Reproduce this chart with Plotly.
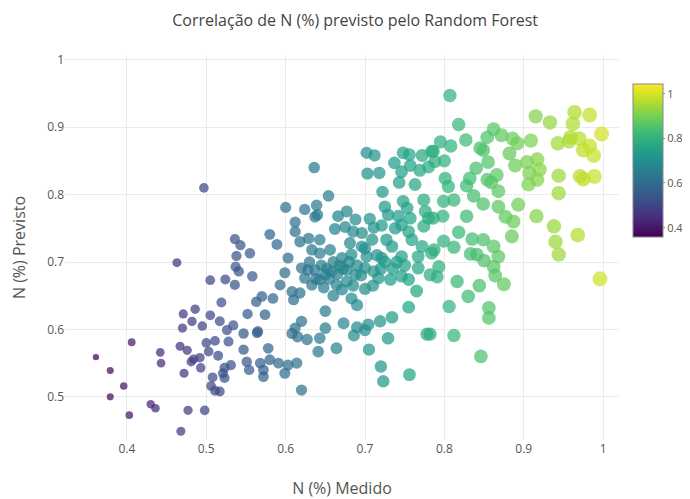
import plotly.graph_objects as go
import numpy as np

# Measured N (%) values
x_medido = [
    0.497, 0.463, 0.536, 0.543, 0.555, 0.538, 0.537, 0.541, 0.558, 0.505,
    0.524, 0.536, 0.519, 0.563, 0.486, 0.471, 0.505, 0.552, 0.482, 0.517,
    0.534, 0.495, 0.470, 0.526, 0.547, 0.564, 0.528, 0.511, 0.500, 0.406,
    0.467, 0.476, 0.503, 0.547, 0.442, 0.515, 0.492, 0.484, 0.481, 0.551,
    0.361, 0.443, 0.493, 0.531, 0.523, 0.554, 0.379, 0.472, 0.521, 0.523,
    0.508, 0.396, 0.506, 0.511, 0.517, 0.379, 0.430, 0.436, 0.403, 0.477,
    0.498, 0.468,
    0.636, 0.702, 0.712, 0.748, 0.756, 0.772, 0.784, 0.737, 0.757, 0.746,
    0.769, 0.780, 0.703, 0.718, 0.743, 0.763, 0.722, 0.654, 0.600, 0.624,
    0.639, 0.637, 0.640, 0.666, 0.677, 0.688, 0.706, 0.725, 0.729, 0.748,
    0.753, 0.774, 0.776, 0.742, 0.757, 0.612, 0.662, 0.675, 0.612, 0.580,
    0.589, 0.618, 0.629, 0.643, 0.656, 0.685, 0.696, 0.711, 0.721, 0.738,
    0.746, 0.755, 0.774, 0.780, 0.681, 0.696, 0.709, 0.727, 0.734, 0.759,
    0.772, 0.603, 0.633, 0.643, 0.671, 0.683, 0.702, 0.721, 0.746, 0.767,
    0.784,
    0.650, 0.658, 0.643, 0.664, 0.677, 0.671, 0.683, 0.690, 0.633, 0.624,
    0.620, 0.637, 0.677, 0.688, 0.700, 0.711, 0.717, 0.732, 0.746, 0.755,
    0.767, 0.782, 0.765, 0.755, 0.734, 0.719, 0.704, 0.690, 0.686, 0.700,
    0.673, 0.650, 0.778, 0.729, 0.705, 0.720, 0.723, 0.756, 0.664, 0.641,
    0.643, 0.650, 0.627, 0.620, 0.612, 0.608, 0.615, 0.620, 0.614, 0.603,
    0.599, 0.591, 0.578, 0.580, 0.568, 0.572, 0.572, 0.565, 0.574, 0.570,
    0.584, 0.593, 0.599, 0.608, 0.610, 0.618,
    0.645, 0.652, 0.660, 0.668, 0.655, 0.648, 0.638, 0.630, 0.628, 0.665,
    0.672, 0.680, 0.690, 0.695, 0.685, 0.660, 0.700, 0.710, 0.720, 0.725,
    0.735, 0.740, 0.750, 0.715, 0.700,
    0.807, 0.915, 0.933, 0.964, 0.983, 0.962, 0.998, 0.818, 0.827, 0.795,
    0.808, 0.786, 0.800, 0.788, 0.862, 0.854, 0.872, 0.886, 0.892, 0.909,
    0.845, 0.849, 0.882, 0.855, 0.840, 0.889, 0.904, 0.917, 0.920, 0.907,
    0.917, 0.906, 0.943, 0.957, 0.959, 0.970, 0.975, 0.983, 0.988, 0.944,
    0.971, 0.975, 0.989, 0.944, 0.801, 0.805, 0.832, 0.828, 0.854, 0.859,
    0.866, 0.868, 0.837, 0.849, 0.893, 0.868, 0.799, 0.812, 0.828, 0.798,
    0.786, 0.877, 0.887, 0.916, 0.938,
    0.968, 0.940, 0.944, 0.996, 0.885, 0.818, 0.835, 0.849, 0.799, 0.812,
    0.787, 0.862, 0.833, 0.841, 0.850, 0.868, 0.862, 0.864, 0.875, 0.793,
    0.791, 0.816, 0.844, 0.830, 0.806, 0.856, 0.856, 0.782, 0.812, 0.846,
]

# Predicted N (%) values
y_previsto = [
    0.810, 0.699, 0.734, 0.725, 0.713, 0.709, 0.693, 0.686, 0.679, 0.673,
    0.674, 0.666, 0.640, 0.641, 0.630, 0.623, 0.621, 0.623, 0.612, 0.612,
    0.606, 0.605, 0.602, 0.599, 0.594, 0.595, 0.582, 0.583, 0.580, 0.581,
    0.575, 0.569, 0.567, 0.570, 0.566, 0.561, 0.558, 0.556, 0.552, 0.552,
    0.559, 0.550, 0.543, 0.547, 0.543, 0.540, 0.539, 0.535, 0.535, 0.528,
    0.529, 0.516, 0.516, 0.509, 0.508, 0.500, 0.489, 0.483, 0.473, 0.480,
    0.480, 0.449,
    0.840, 0.862, 0.858, 0.862, 0.859, 0.858, 0.864, 0.847, 0.843, 0.834,
    0.836, 0.841, 0.831, 0.832, 0.818, 0.815, 0.804, 0.798, 0.781, 0.778,
    0.784, 0.767, 0.770, 0.768, 0.775, 0.763, 0.764, 0.782, 0.770, 0.790,
    0.780, 0.792, 0.775, 0.768, 0.765, 0.759, 0.749, 0.752, 0.745, 0.741,
    0.726, 0.730, 0.735, 0.733, 0.718, 0.745, 0.743, 0.751, 0.754, 0.750,
    0.755, 0.745, 0.753, 0.765, 0.728, 0.723, 0.733, 0.733, 0.723, 0.733,
    0.723, 0.706, 0.718, 0.713, 0.706, 0.711, 0.708, 0.706, 0.708, 0.708,
    0.713,
    0.681, 0.686, 0.674, 0.666, 0.671, 0.659, 0.646, 0.636, 0.666, 0.676,
    0.691, 0.688, 0.688, 0.681, 0.691, 0.686, 0.676, 0.674, 0.679, 0.674,
    0.691, 0.681, 0.657, 0.633, 0.618, 0.612, 0.607, 0.603, 0.591, 0.599,
    0.609, 0.627, 0.593, 0.587, 0.570, 0.545, 0.523, 0.533, 0.572, 0.567,
    0.587, 0.602, 0.585, 0.612, 0.602, 0.594, 0.589, 0.510, 0.550, 0.547,
    0.535, 0.550, 0.572, 0.555, 0.550, 0.540, 0.530, 0.597, 0.622, 0.649,
    0.646, 0.666, 0.684, 0.656, 0.644, 0.654,
    0.695, 0.690, 0.700, 0.695, 0.675, 0.662, 0.675, 0.700, 0.688, 0.682,
    0.690, 0.700, 0.695, 0.680, 0.665, 0.650, 0.660, 0.665, 0.690, 0.700,
    0.690, 0.700, 0.695, 0.710, 0.720,
    0.947, 0.916, 0.907, 0.922, 0.918, 0.905, 0.890, 0.904, 0.881, 0.878,
    0.872, 0.864, 0.850, 0.849, 0.897, 0.885, 0.888, 0.883, 0.876, 0.880,
    0.869, 0.866, 0.861, 0.848, 0.839, 0.843, 0.848, 0.852, 0.837, 0.832,
    0.822, 0.815, 0.876, 0.879, 0.885, 0.883, 0.866, 0.872, 0.858, 0.828,
    0.827, 0.823, 0.827, 0.802, 0.824, 0.812, 0.824, 0.813, 0.822, 0.818,
    0.829, 0.805, 0.798, 0.786, 0.785, 0.782, 0.790, 0.792, 0.768, 0.768,
    0.765, 0.767, 0.760, 0.768, 0.753,
    0.740, 0.730, 0.711, 0.675, 0.738, 0.744, 0.734, 0.733, 0.731, 0.722,
    0.718, 0.723, 0.712, 0.711, 0.702, 0.708, 0.693, 0.680, 0.667, 0.693,
    0.678, 0.671, 0.665, 0.649, 0.634, 0.632, 0.617, 0.593, 0.591, 0.560,
]

x_ticks = [0.4, 0.5, 0.6, 0.7, 0.8, 0.9, 1]
y_ticks = [0.5, 0.6, 0.7, 0.8, 0.9, 1]
cbar_ticks = [0.4, 0.6, 0.8, 1]

xa = np.array(x_medido)
sizes = 4.5 + 10.5 * np.sqrt(np.clip((xa - 0.34) / 0.66, 0, None))

fig = go.Figure(go.Scatter(
    x=x_medido, y=y_previsto, mode="markers",
    marker=dict(
        color=x_medido, colorscale="Viridis", cmin=0.36, cmax=1.045,
        size=sizes, opacity=0.72, line=dict(width=0),
        colorbar=dict(
            x=1.0162, xanchor="left", y=0.727, yanchor="middle",
            len=0.45, thickness=30, outlinewidth=1, outlinecolor="#888",
            xpad=5, ypad=10,
            tickvals=cbar_ticks, ticktext=[str(v) for v in cbar_ticks],
            ticks="outside", ticklen=2, tickcolor="#888",
            tickfont=dict(size=11, color="#555"),
        ),
    ),
    showlegend=False,
))

fig.update_layout(
    width=682, height=491,
    margin=dict(l=57, r=71, t=47, b=59, autoexpand=False),
    paper_bgcolor="white", plot_bgcolor="white",
    font=dict(family="Open Sans, sans-serif", color="#444"),
    title=dict(text="Correlação de N (%) previsto pelo Random Forest",
               x=0.509, xanchor="center", y=0.9756, yanchor="middle",
               yref="container",
               font=dict(size=16, color="#444")),
    xaxis=dict(range=[0.322, 1.020], tickvals=x_ticks,
               ticktext=[str(v) for v in x_ticks],
               showgrid=True, gridcolor="#ebebeb", zeroline=False,
               showline=False, tickfont=dict(size=12, color="#555"),
               title=dict(text="N (%) Medido", font=dict(size=16, color="#555"),
                          standoff=30)),
    yaxis=dict(range=[0.436, 1.007], tickvals=y_ticks,
               ticktext=[str(v) for v in y_ticks],
               showgrid=True, gridcolor="#ebebeb", zeroline=False,
               showline=False, tickfont=dict(size=12, color="#555"),
               title=dict(text="N (%) Previsto", font=dict(size=16, color="#555"),
                          standoff=20)),
)

fig.write_html("out.html")
